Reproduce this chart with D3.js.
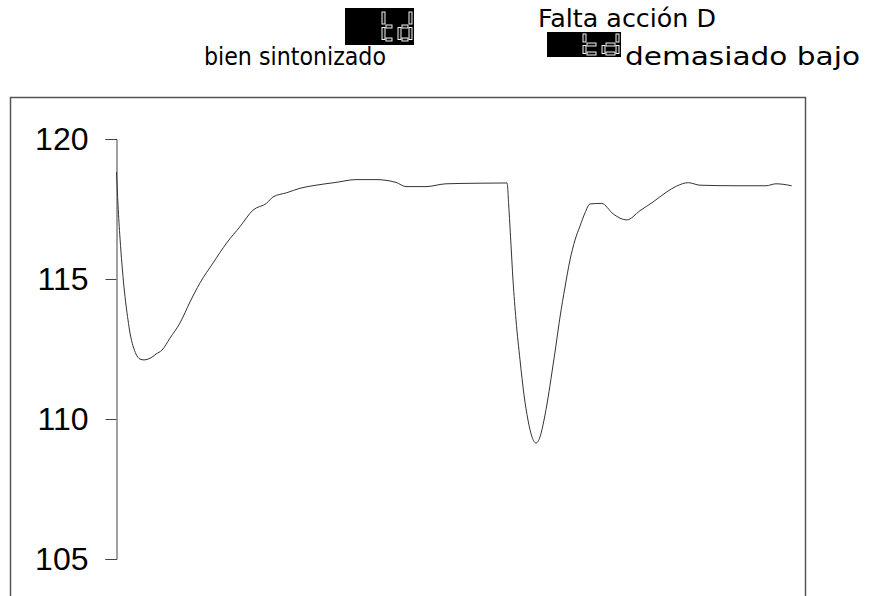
<!DOCTYPE html>
<html>
<head>
<meta charset="utf-8">
<script src="https://cdn.jsdelivr.net/npm/d3@7"></script>
<style>
  body { margin: 0; background: #fff; }
  svg { display: block; }
  .note { font-family: 'DejaVu Sans', sans-serif; font-size: 24px; fill: #000; }
</style>
</head>
<body>
<div id="chart"></div>
<script>
// time index (samples) and process value
var times = [0.5, 2, 4, 6, 8, 10, 12, 14, 17, 20, 24, 28, 32, 36, 40, 46, 54, 64, 74, 84, 97,
	110.7, 124, 137, 150.7, 157, 170.7, 184, 200, 220, 240, 260, 280, 290, 310, 330, 360, 391,
	393, 395, 397, 400, 404, 408, 412, 416, 420, 424, 428, 432, 436, 440, 444, 449, 454, 459,
	464, 469, 474, 485.7, 497.3, 510.7, 524, 537, 550.7, 560.7, 572.3, 584, 620, 650, 660, 675.7];
var values = [118.82, 117.64, 116.46, 115.5, 114.71, 114.07, 113.54, 113.07, 112.61, 112.32, 112.14, 112.11, 112.14, 112.21, 112.32, 112.46, 112.89, 113.43, 114.18, 114.86, 115.57,
	116.29, 116.87, 117.46, 117.71, 117.93, 118.08, 118.24, 118.35, 118.45, 118.55, 118.55, 118.45, 118.30, 118.30, 118.40, 118.42, 118.43,
	117.46, 116.21, 114.96, 113.54, 112.11, 110.86, 109.96, 109.36, 109.14, 109.36, 109.96, 110.75, 111.68, 112.64, 113.64, 114.71, 115.68, 116.39,
	116.89, 117.36, 117.68, 117.7, 117.32, 117.11, 117.44, 117.75, 118.11, 118.32, 118.44, 118.35, 118.33, 118.33, 118.40, 118.33];
var yTicks = [105, 110, 115, 120];

var width = 871, height = 596;

var svg = d3.select('#chart').append('svg')
	.attr('width', width)
	.attr('height', height);

// outer frame, open at the bottom edge of the picture
svg.append('rect')
	.attr('x', 10.5)
	.attr('y', 97.5)
	.attr('width', 795)
	.attr('height', 520)
	.attr('fill', 'none')
	.attr('stroke', '#555')
	.attr('stroke-width', 1.5);

var x = d3.scaleLinear().domain([0, 689]).range([116, 805]);
var y = d3.scaleLinear().domain([105, 120]).range([559, 139]);

var yAxis = d3.axisLeft(y)
	.tickValues(yTicks)
	.tickSize(11)
	.tickPadding(17)
	.tickFormat(d3.format('d'));

var gy = svg.append('g')
	.attr('transform', 'translate(116.5,0)')
	.call(yAxis);
gy.attr('font-family', "'Liberation Sans', Arial, sans-serif").attr('font-size', 32);
gy.select('.domain').attr('stroke', '#444');
gy.selectAll('.tick line').attr('stroke', '#444');
gy.selectAll('.tick text').attr('fill', '#000');

var data = times.map(function(t, i) { return { t: t, v: values[i] }; });

var line = d3.line()
	.x(function(d) { return x(d.t); })
	.y(function(d) { return y(d.v); })
	.curve(d3.curveMonotoneX);

svg.append('path')
	.datum(data)
	.attr('fill', 'none')
	.attr('stroke', '#333')
	.attr('stroke-width', 1)
	.attr('d', line);

// seven segment digit, segments given by letter a..g
function drawGlyph(g, gx, gy, gw, gh, s, segs) {
	var half = gh / 2, v = half - s / 2 - 1;
	var rects = {
		a: [gx + s + 1, gy, gw - 2 * s - 2, s],
		b: [gx + gw - s, gy, s, v],
		c: [gx + gw - s, gy + half + 1, s, v],
		d: [gx + s + 1, gy + gh - s, gw - 2 * s - 2, s],
		e: [gx, gy + half + 1, s, v],
		f: [gx, gy, s, v],
		g: [gx + s + 1, gy + half - s / 2, gw - 2 * s - 2, s]
	};
	segs.split('').forEach(function(k) {
		var r = rects[k];
		g.append('rect')
			.attr('x', r[0]).attr('y', r[1])
			.attr('width', r[2]).attr('height', r[3])
			.attr('fill', '#111')
			.attr('stroke', '#f2f2f2')
			.attr('stroke-width', 1);
	});
}

// black display box showing "td"
function drawDisplay(x0, y0, w, h, gw, gh) {
	var g = svg.append('g').attr('transform', 'translate(' + x0 + ',' + y0 + ')');
	g.append('rect').attr('width', w).attr('height', h).attr('fill', '#000');
	var s = 3, top = (h - gh) / 2;
	drawGlyph(g, w - 2 * gw - 4, top, gw, gh, s, 'fedg');
	drawGlyph(g, w - gw - 2, top, gw, gh, s, 'bcdeg');
}

drawDisplay(345, 8, 69, 37, 14, 29);
svg.append('text').attr('class', 'note')
	.attr('x', 204).attr('y', 65)
	.attr('textLength', 182)
	.attr('lengthAdjust', 'spacingAndGlyphs')
	.text('bien sintonizado');

svg.append('text').attr('class', 'note')
	.attr('x', 538).attr('y', 27)
	.attr('textLength', 178)
	.attr('lengthAdjust', 'spacingAndGlyphs')
	.text('Falta acción D');
drawDisplay(547, 32, 74, 25, 17, 21);
svg.append('text').attr('class', 'note')
	.attr('x', 625).attr('y', 65)
	.attr('textLength', 235)
	.attr('lengthAdjust', 'spacingAndGlyphs')
	.text('demasiado bajo');
</script>
</body>
</html>
